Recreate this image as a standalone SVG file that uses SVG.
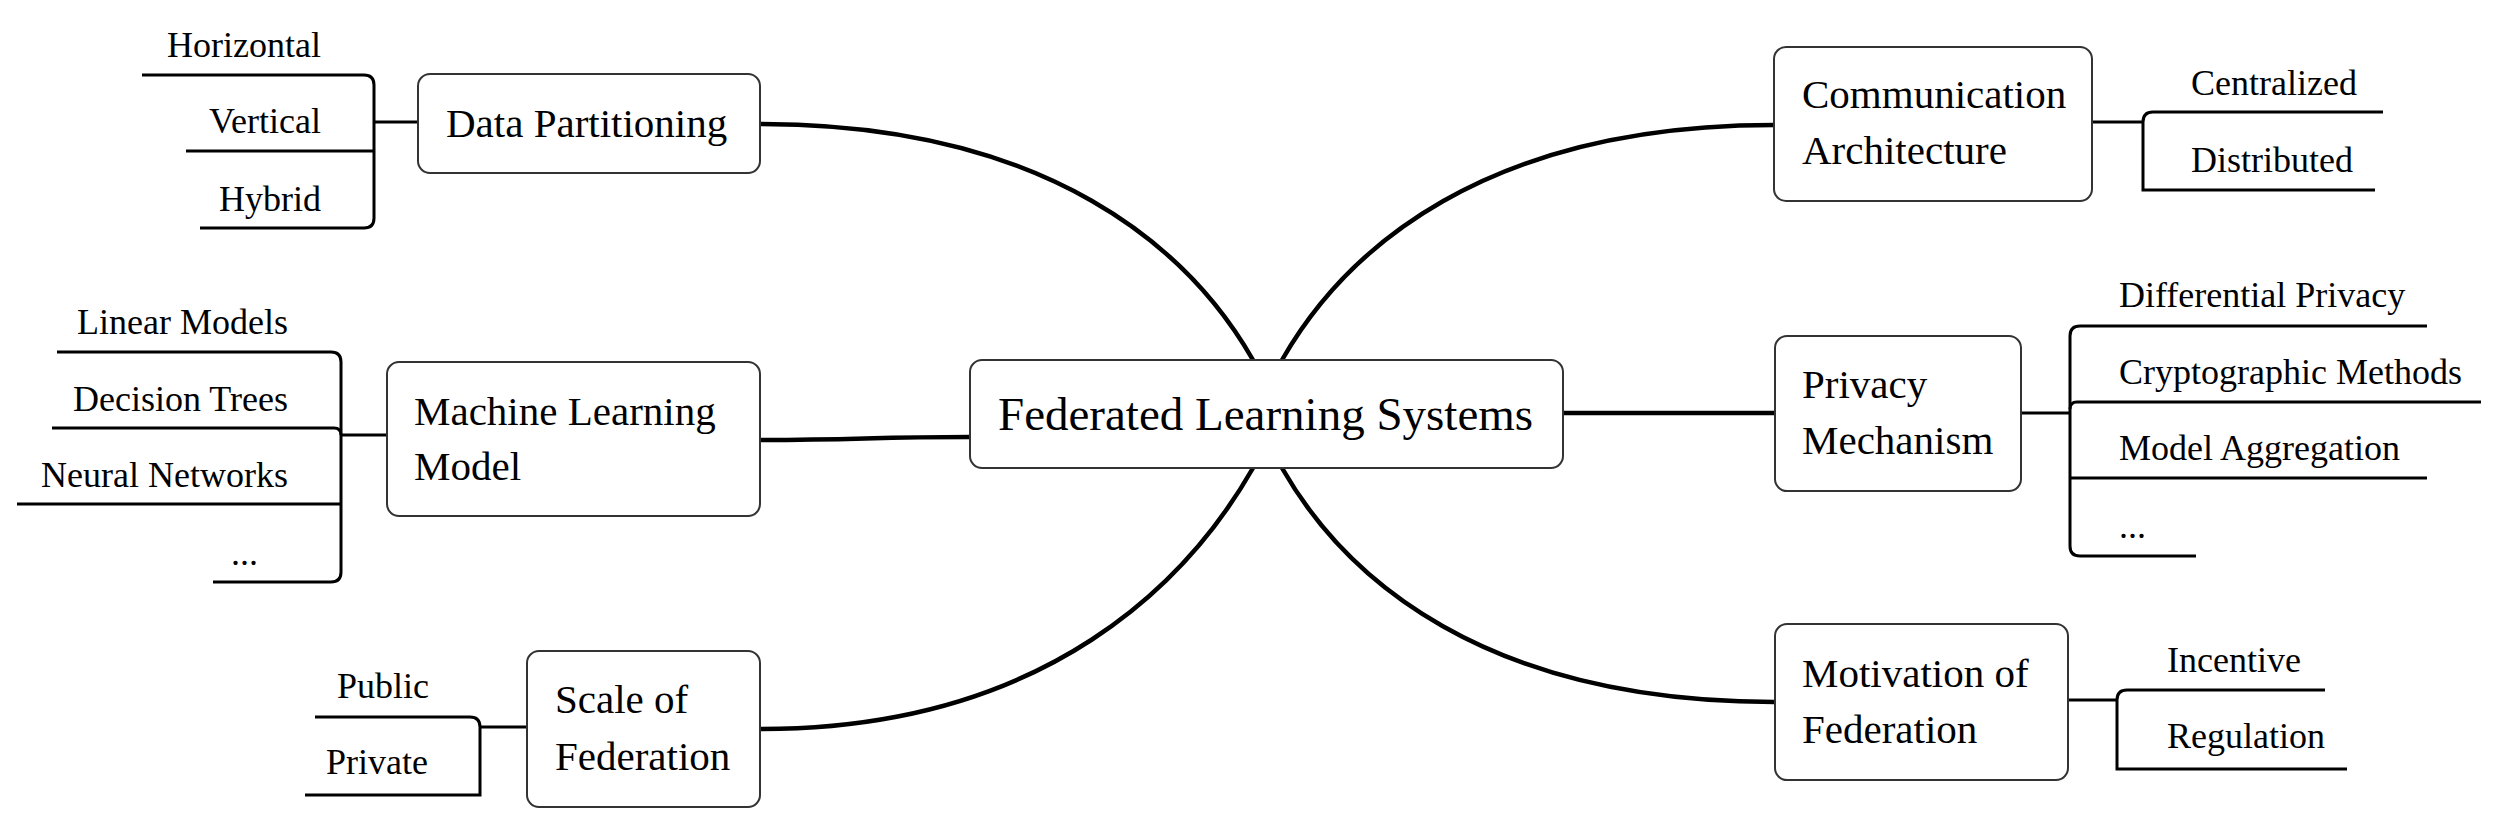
<svg xmlns="http://www.w3.org/2000/svg" width="2500" height="820" viewBox="0 0 2500 820">
<style>
.box{fill:#fff;stroke:#333;stroke-width:2}
.t{font-family:"Liberation Serif","Times New Roman",serif;fill:#000}
.c{font-size:47px}
.m{font-size:41px}
.s{font-size:36px}
.e{text-anchor:end}
.main{fill:none;stroke:#000;stroke-width:4.5;stroke-linecap:round}
.br{fill:none;stroke:#000;stroke-width:3}
</style>
<rect width="2500" height="820" fill="#fff"/>
<g id="connectors">
<path class="main" d="M760,124 C1050,124 1190,250 1253,360"/>
<path class="main" d="M760,440 C860,440 870,437 970,437"/>
<path class="main" d="M760,729 C1050,729 1190,578 1253,468"/>
<path class="main" d="M1282,360 C1345,250 1484,125 1774,125"/>
<path class="main" d="M1563,413 L1775,413"/>
<path class="main" d="M1282,468 C1345,578 1484,702 1774,702"/>
<!-- Data Partitioning bracket -->
<path class="br" d="M142,75 H364 Q374,75 374,85 V218 Q374,228 364,228 H200"/>
<path class="br" d="M186,151 H374"/>
<path class="br" d="M374,122 H419"/>
<!-- Machine Learning bracket -->
<path class="br" d="M57,352 H331 Q341,352 341,362 V572 Q341,582 331,582 H213"/>
<path class="br" d="M52,428 H334 Q341,428 341,435"/>
<path class="br" d="M17,504 H341"/>
<path class="br" d="M341,435 H388"/>
<!-- Scale of Federation bracket -->
<path class="br" d="M315,717 H470 Q480,717 480,727 V795 H305"/>
<path class="br" d="M480,727 H527"/>
<!-- Communication bracket -->
<path class="br" d="M2383,112 H2153 Q2143,112 2143,122 V190 H2375"/>
<path class="br" d="M2092,122 H2143"/>
<!-- Privacy bracket -->
<path class="br" d="M2427,326 H2080 Q2070,326 2070,336 V546 Q2070,556 2080,556 H2196"/>
<path class="br" d="M2481,402 H2077 Q2070,402 2070,409"/>
<path class="br" d="M2070,478 H2427"/>
<path class="br" d="M2021,413 H2070"/>
<!-- Motivation bracket -->
<path class="br" d="M2325,690 H2127 Q2117,690 2117,700 V769 H2347"/>
<path class="br" d="M2068,700 H2117"/>
</g>
<g id="center">
<rect class="box" x="970" y="360" width="593" height="108" rx="12"/>
<text class="t c" x="998" y="430">Federated Learning Systems</text>
</g>
<g id="data-partitioning">
<rect class="box" x="418" y="74" width="342" height="99" rx="12"/>
<text class="t m" x="446" y="137">Data Partitioning</text>
</g>
<g id="ml-model">
<rect class="box" x="387" y="362" width="373" height="154" rx="12"/>
<text class="t m" x="414" y="425">Machine Learning</text>
<text class="t m" x="414" y="480">Model</text>
</g>
<g id="scale">
<rect class="box" x="527" y="651" width="233" height="156" rx="12"/>
<text class="t m" x="555" y="713">Scale of</text>
<text class="t m" x="555" y="770">Federation</text>
</g>
<g id="communication">
<rect class="box" x="1774" y="47" width="318" height="154" rx="12"/>
<text class="t m" x="1802" y="108">Communication</text>
<text class="t m" x="1802" y="164">Architecture</text>
</g>
<g id="privacy">
<rect class="box" x="1775" y="336" width="246" height="155" rx="12"/>
<text class="t m" x="1802" y="398">Privacy</text>
<text class="t m" x="1802" y="454">Mechanism</text>
</g>
<g id="motivation">
<rect class="box" x="1775" y="624" width="293" height="156" rx="12"/>
<text class="t m" x="1802" y="687">Motivation of</text>
<text class="t m" x="1802" y="743">Federation</text>
</g>
<g id="leaf-horizontal"><text class="t s e" x="321" y="57">Horizontal</text></g>
<g id="leaf-vertical"><text class="t s e" x="321" y="133">Vertical</text></g>
<g id="leaf-hybrid"><text class="t s e" x="321" y="211">Hybrid</text></g>
<g id="leaf-linear"><text class="t s e" x="288" y="334">Linear Models</text></g>
<g id="leaf-trees"><text class="t s e" x="288" y="411">Decision Trees</text></g>
<g id="leaf-nn"><text class="t s e" x="288" y="487">Neural Networks</text></g>
<g id="leaf-ml-more"><text class="t s e" x="258" y="565">...</text></g>
<g id="leaf-public"><text class="t s e" x="429" y="698">Public</text></g>
<g id="leaf-private"><text class="t s e" x="428" y="774">Private</text></g>
<g id="leaf-centralized"><text class="t s" x="2191" y="95">Centralized</text></g>
<g id="leaf-distributed"><text class="t s" x="2191" y="172">Distributed</text></g>
<g id="leaf-dp"><text class="t s" x="2119" y="307">Differential Privacy</text></g>
<g id="leaf-crypto"><text class="t s" x="2119" y="384">Cryptographic Methods</text></g>
<g id="leaf-agg"><text class="t s" x="2119" y="460">Model Aggregation</text></g>
<g id="leaf-priv-more"><text class="t s" x="2119" y="538">...</text></g>
<g id="leaf-incentive"><text class="t s" x="2167" y="672">Incentive</text></g>
<g id="leaf-regulation"><text class="t s" x="2167" y="748">Regulation</text></g>
</svg>
